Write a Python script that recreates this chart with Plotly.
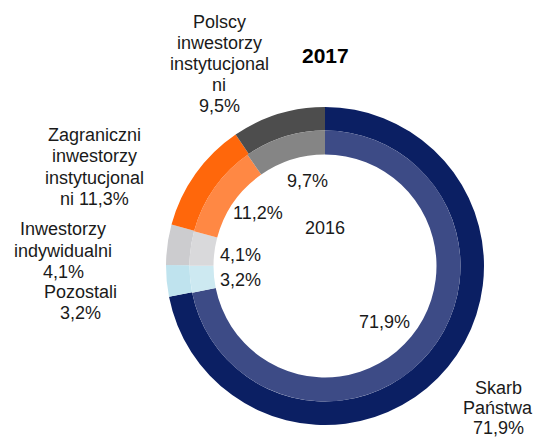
import plotly.graph_objects as go

# Shareholder structure, 2017 (outer ring) and 2016 (inner ring), in %
categories = [
    "Skarb Państwa",
    "Pozostali",
    "Inwestorzy indywidualni",
    "Zagraniczni inwestorzy instytucjonalni",
    "Polscy inwestorzy instytucjonalni",
]
shares_2017 = [71.9, 3.2, 4.1, 11.3, 9.5]
shares_2016 = [71.9, 3.2, 4.1, 11.2, 9.7]

colors_2017 = ["#0b1f63", "#bfe3ee", "#cccccf", "#ff670b", "#4d4d4d"]
colors_2016 = ["#3d4b86", "#cde9f1", "#d9d9db", "#ff8844", "#858585"]

W, H = 539, 439
FONT = "Liberation Sans, Arial, sans-serif"


def pct(v):
    return f"{v:.1f}".replace(".", ",") + "%"


def px_dom(cx, cy, r):
    """Square pie domain in paper coordinates from a pixel centre and radius."""
    return dict(x=[(cx - r) / W, (cx + r) / W],
                y=[1 - (cy + r) / H, 1 - (cy - r) / H])


CX, CY = 325, 266
R_OUT, R_MID, R_IN = 159, 135.5, 111.5

fig = go.Figure()
fig.add_trace(go.Pie(
    labels=categories, values=shares_2017, sort=False, direction="clockwise",
    rotation=0, hole=R_MID / R_OUT, domain=px_dom(CX, CY, R_OUT),
    marker=dict(colors=colors_2017, line=dict(width=0)),
    textinfo="none", hoverinfo="label+percent", showlegend=False,
))
fig.add_trace(go.Pie(
    labels=categories, values=shares_2016, sort=False, direction="clockwise",
    rotation=0, hole=R_IN / R_MID, domain=px_dom(CX, CY, R_MID),
    marker=dict(colors=colors_2016, line=dict(width=0)),
    textinfo="none", hoverinfo="label+percent", showlegend=False,
))

# Outer (2017) labels: wrapped lines, centre x, first-line centre y, line step (px)
outer_labels = [
    (["Skarb", "Państwa", pct(shares_2017[0])], 498, 388, 20),
    (["Pozostali", pct(shares_2017[1])], 80, 292, 20.5),
    (["Inwestorzy", "indywidualni", pct(shares_2017[2])], 63, 229, 21.5),
    (["Zagraniczni", "inwestorzy", "instytucjonal", "ni " + pct(shares_2017[3])], 94.5, 134.5, 21.5),
    (["Polscy", "inwestorzy", "instytucjonal", "ni", pct(shares_2017[4])], 219, 22, 21),
]

# Inner (2016) value labels inside the hole
inner_pos = [(384, 322), (240, 280), (240, 255), (258, 213), (307, 181)]

annotations = []
for lines, x, y0, step in outer_labels:
    for i, line in enumerate(lines):
        annotations.append(dict(
            x=x / W, y=1 - (y0 + i * step) / H, xref="paper", yref="paper",
            text=line, showarrow=False, xanchor="center", yanchor="middle",
            font=dict(family=FONT, size=18, color="#1a1a1a"),
        ))

for v, (x, y) in zip(shares_2016, inner_pos):
    annotations.append(dict(
        x=x / W, y=1 - y / H, xref="paper", yref="paper", text=pct(v),
        showarrow=False, xanchor="center", yanchor="middle",
        font=dict(family=FONT, size=18, color="#1a1a1a"),
    ))

annotations.append(dict(
    x=325 / W, y=1 - 228 / H, xref="paper", yref="paper", text="2016",
    showarrow=False, xanchor="center", yanchor="middle",
    font=dict(family=FONT, size=18, color="#1a1a1a"),
))
annotations.append(dict(
    x=325 / W, y=1 - 56 / H, xref="paper", yref="paper", text="<b>2017</b>",
    showarrow=False, xanchor="center", yanchor="middle",
    font=dict(family=FONT, size=21, color="#000000"),
))

fig.update_layout(
    width=W, height=H, margin=dict(l=0, r=0, t=0, b=0),
    paper_bgcolor="white", plot_bgcolor="white",
    annotations=annotations,
)

fig.write_html("out.html")
